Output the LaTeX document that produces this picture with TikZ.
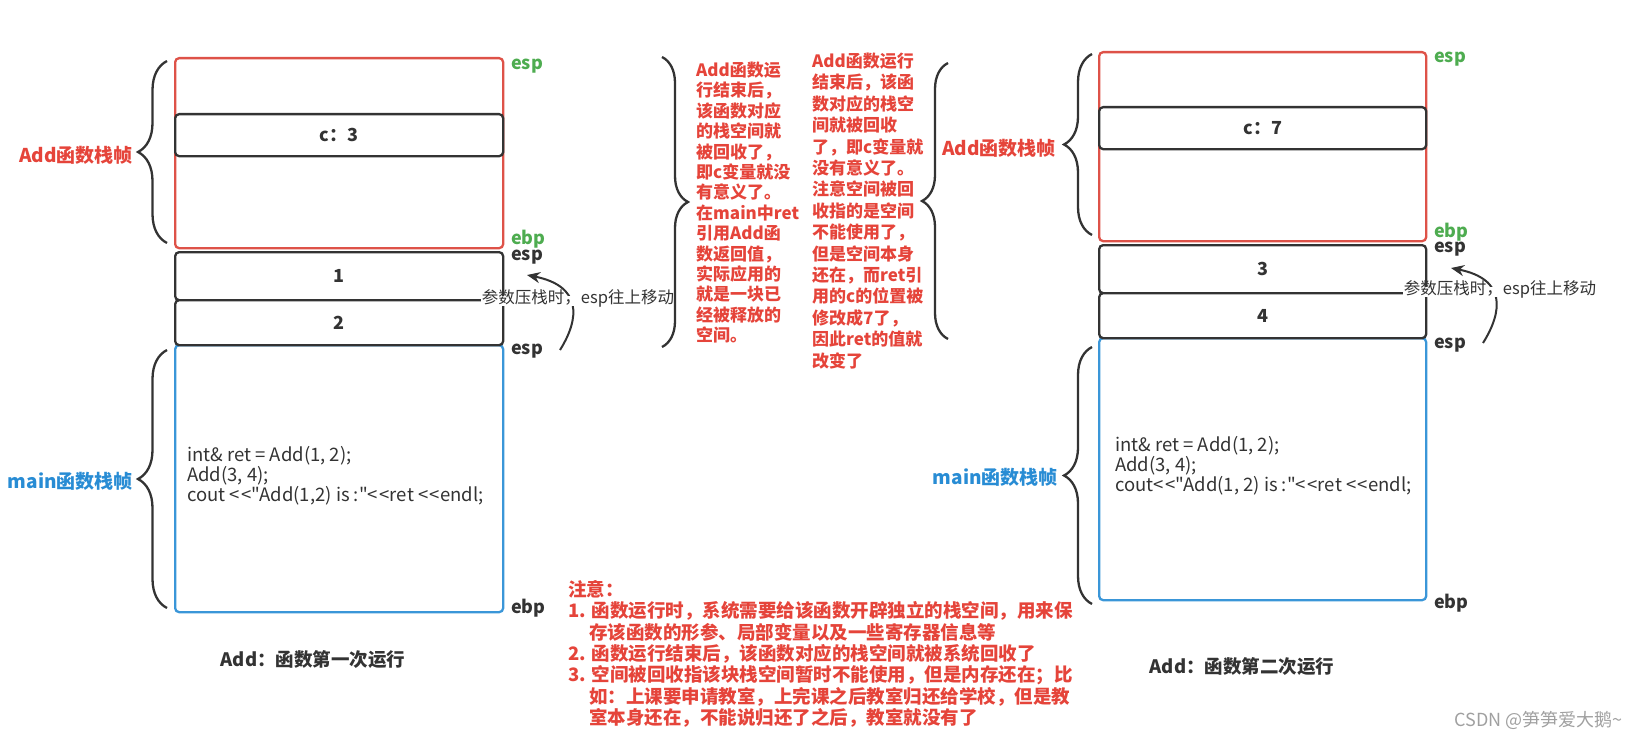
\documentclass[tikz,border=0pt]{standalone}
\usepackage{fontspec}
\setmainfont{Noto Sans CJK SC}
\newfontfamily\codefont{Noto Sans CJK SC}[Ligatures=TeXOff]
\usetikzlibrary{decorations.pathreplacing,arrows.meta}
\definecolor{redt}{RGB}{229,68,58}
\definecolor{redf}{RGB}{222,82,72}
\definecolor{greent}{RGB}{78,172,80}
\definecolor{bluet}{RGB}{40,140,212}
\definecolor{bluef}{RGB}{58,150,216}
\definecolor{dark}{RGB}{51,51,51}
\definecolor{wm}{RGB}{160,160,160}
\newcommand\setfs[1]{\fontsize{#1}{#1}\selectfont}
\newcommand\shl{<\kern1.6pt<}
\tikzset{
  box/.style={draw, line width=2.3pt, rounded corners=4pt, inner sep=0pt, anchor=north west},
  cellbox/.style={box, draw=dark, fill=white, text=dark, font=\setfs{18}\bfseries},
  txt/.style={inner sep=0pt, text height=0.72em, text depth=0.22em},
  reg/.style={txt, anchor=west, font=\setfs{18}\bfseries},
  colt/.style={txt, anchor=west, text=redt, font=\setfs{17}\bfseries},
  notet/.style={txt, anchor=west, text=redt, font=\setfs{18.5}\bfseries},
  codet/.style={txt, anchor=west, text=dark, font=\codefont\setfs{18.5}},
  brc/.style={draw=dark, line width=2.3pt, decorate, decoration={brace, amplitude=#1}},
  arr/.style={draw=dark, line width=2pt, -{Stealth[length=13pt,width=11pt]}},
  arrlab/.style={txt, fill=white, inner xsep=1pt, text=dark, font=\setfs{16.5}},
}
\begin{document}
\begin{tikzpicture}[x=1pt,y=-1pt]
\useasboundingbox (0,0) rectangle (1640,741);

% ===== left stack =====
\node[box, draw=redf, minimum width=328pt, minimum height=190pt] (addL) at (174,57) {};
\node[cellbox, minimum width=328pt, minimum height=42pt] (cL) at (174,113) {c：3};
\node[box, draw=bluef, minimum width=328pt, minimum height=267pt] (mainL) at (174,344) {};
\node[cellbox, minimum width=328pt, minimum height=48pt] (p1) at (174,251) {1};
\node[cellbox, minimum width=328pt, minimum height=45pt] (p2) at (174,299) {2};

\node[reg, text=greent] (espLg) at (511,67) {esp};
\node[reg, text=greent] (ebpLg) at (511,242) {ebp};
\node[reg, text=dark] (espL1) at (511,258) {esp};
\node[reg, text=dark] (espL2) at (511,352) {esp};
\node[reg, text=dark] (ebpL) at (511,611) {ebp};

\draw[brc=29pt] (167,243) -- (167,61);
\draw[brc=29pt] (167,608) -- (167,350);
\node[txt, anchor=east, text=redt, font=\setfs{19}\bfseries] (labAddL) at (133,160) {Add函数栈帧};
\node[txt, anchor=east, text=bluet, font=\setfs{19}\bfseries] (labMainL) at (133,486) {main函数栈帧};

\node[codet] (codeL1) at (187,459) {int\& ret = Add(1, 2);};
\node[codet] (codeL2) at (187,479) {Add(3, 4);};
\node[codet] (codeL3) at (187,499) {cout \shl"Add(1,2) is :"\shl ret \shl endl;};

\coordinate (aLs) at (560,350);
\coordinate (aLe) at (527,275);
\draw[arr] (aLs) .. controls (580,318) and (582,286) .. (aLe);
\node[arrlab] (labArrL) at (578,301) {参数压栈时，esp往上移动};

\node[txt, text=dark, font=\setfs{18.5}\bfseries] (capL) at (313,664) {Add：函数第一次运行};

% ===== middle texts =====
\draw[brc=26pt] (662,57) -- (662,347);
\foreach \t [count=\i] in {Add函数运, 行结束后，, 该函数对应, 的栈空间就, 被回收了，, 即c变量就没, 有意义了。, 在main中ret, 引用Add函, 数返回值，, 实际应用的, 就是一块已, 经被释放的, 空间。}
  \node[colt] (ca\i) at (696,{74+20.4*(\i-1)}) {\t};
\foreach \t [count=\i] in {Add函数运行, 结束后，该函, 数对应的栈空, 间就被回收, 了，即c变量就, 没有意义了。, 注意空间被回, 收指的是空间, 不能使用了，, 但是空间本身, 还在，而ret引, 用的c的位置被, 修改成7了，, 因此ret的值就, 改变了}
  \node[colt] (cb\i) at (812,{65+21.4*(\i-1)}) {\t};
\draw[brc=26pt] (948,339) -- (948,63);

% ===== note =====
\node[notet] (n0) at (568,594) {注意：};
\node[notet] (n1) at (568,615.3) {1. 函数运行时，系统需要给该函数开辟独立的栈空间，用来保};
\node[notet] (n2) at (589,636.6) {存该函数的形参、局部变量以及一些寄存器信息等};
\node[notet] (n3) at (568,657.9) {2. 函数运行结束后，该函数对应的栈空间就被系统回收了};
\node[notet] (n4) at (568,679.2) {3. 空间被回收指该块栈空间暂时不能使用，但是内存还在；比};
\node[notet] (n5) at (589,700.5) {如：上课要申请教室，上完课之后教室归还给学校，但是教};
\node[notet] (n6) at (589,721.8) {室本身还在，不能说归还了之后，教室就没有了};

% ===== right stack =====
\node[box, draw=redf, minimum width=327pt, minimum height=189pt] (addR) at (1098,51) {};
\node[cellbox, minimum width=327pt, minimum height=42pt] (cR) at (1098,106) {c：7};
\node[box, draw=bluef, minimum width=327pt, minimum height=262pt] (mainR) at (1098,337) {};
\node[cellbox, minimum width=327pt, minimum height=48pt] (p3) at (1098,244) {3};
\node[cellbox, minimum width=327pt, minimum height=45pt] (p4) at (1098,292) {4};

\node[reg, text=greent] (espRg) at (1434,60) {esp};
\node[reg, text=greent] (ebpRg) at (1434,235) {ebp};
\node[reg, text=dark] (espR1) at (1434,250) {esp};
\node[reg, text=dark] (espR2) at (1434,346) {esp};
\node[reg, text=dark] (ebpR) at (1434,606) {ebp};

\draw[brc=28pt] (1092,235) -- (1092,54);
\draw[brc=28pt] (1092,604) -- (1092,347);
\node[txt, anchor=east, text=redt, font=\setfs{19}\bfseries] (labAddR) at (1056,153) {Add函数栈帧};
\node[txt, anchor=east, text=bluet, font=\setfs{19}\bfseries] (labMainR) at (1058,482) {main函数栈帧};

\node[codet] (codeR1) at (1115,449) {int\& ret = Add(1, 2);};
\node[codet] (codeR2) at (1115,469) {Add(3, 4);};
\node[codet] (codeR3) at (1115,489) {cout\shl"Add(1, 2) is :"\shl ret \shl endl;};

\coordinate (aRs) at (1483,343);
\coordinate (aRe) at (1451,268);
\draw[arr] (aRs) .. controls (1503,311) and (1506,279) .. (aRe);
\node[arrlab] (labArrR) at (1500,292) {参数压栈时，esp往上移动};

\node[txt, text=dark, font=\setfs{18.5}\bfseries] (capR) at (1242,671) {Add：函数第二次运行};

\node[txt, anchor=east, text=wm, font=\setfs{18}] (wmk) at (1623,724) {CSDN @笋笋爱大鹅\textasciitilde};
\end{tikzpicture}
\end{document}
